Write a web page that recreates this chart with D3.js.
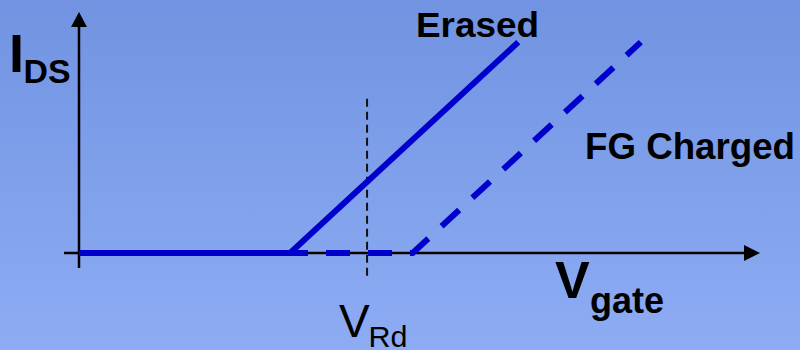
<!DOCTYPE html>
<html>
<head>
<meta charset="utf-8">
<script src="https://cdn.jsdelivr.net/npm/d3@7"></script>
<style>
  body { margin: 0; }
  svg { display: block; font-family: "Liberation Sans", Arial, sans-serif; }
</style>
</head>
<body>
<div id="container"></div>
<script>
// gate voltage / drain current points for each cell state
const erasedV = [0, 3.1, 6.45];
const erasedI = [0, 0, 8.75];
const chargedV = [0, 4.9, 8.25];
const chargedI = [0, 0, 8.75];
const readV = [4.23, 4.23];
const readI = [6.4, -1.0];
const seriesNames = ['Erased', 'FG Charged'];

const w = 800;
const h = 350;

const svg = d3.select('#container')
  .append('svg')
  .attr('width', w)
  .attr('height', h);

const defs = svg.append('defs');
const grad = defs.append('linearGradient')
  .attr('id', 'bg')
  .attr('x1', 0).attr('y1', 0)
  .attr('x2', 0).attr('y2', 1);
grad.append('stop').attr('offset', '0%').attr('stop-color', '#7193e1');
grad.append('stop').attr('offset', '100%').attr('stop-color', '#8dacf4');

svg.append('rect')
  .attr('width', w)
  .attr('height', h)
  .attr('fill', 'url(#bg)');

const xScale = d3.scaleLinear().domain([0, 10]).range([79, 760]);
const yScale = d3.scaleLinear().domain([0, 10]).range([253, 12]);

const line = d3.line()
  .x(d => xScale(d[0]))
  .y(d => yScale(d[1]));

// axes
const x0 = xScale(0), y0 = yScale(0);
svg.append('line')
  .attr('x1', x0).attr('y1', y0 + 15)
  .attr('x2', x0).attr('y2', yScale(10) + 14)
  .attr('stroke', '#000').attr('stroke-width', 2.5);
svg.append('path')
  .attr('d', `M${x0},${yScale(10)} L${x0 - 8},${yScale(10) + 15} L${x0 + 8},${yScale(10) + 15} Z`)
  .attr('fill', '#000');

svg.append('line')
  .attr('x1', x0 - 15).attr('y1', y0)
  .attr('x2', xScale(10) - 14).attr('y2', y0)
  .attr('stroke', '#000').attr('stroke-width', 2.5);
svg.append('path')
  .attr('d', `M${xScale(10)},${y0} L${xScale(10) - 16},${y0 - 8} L${xScale(10) - 16},${y0 + 8} Z`)
  .attr('fill', '#000');

// read voltage marker
svg.append('path')
  .attr('d', line(d3.zip(readV, readI)))
  .attr('stroke', '#111')
  .attr('stroke-width', 2)
  .attr('stroke-dasharray', '8,5')
  .attr('fill', 'none');

// FG charged (dashed)
svg.append('path')
  .attr('d', line(d3.zip(chargedV, chargedI)))
  .attr('stroke', '#0000cc')
  .attr('stroke-width', 6)
  .attr('stroke-dasharray', '24,18')
  .attr('stroke-dashoffset', 5)
  .attr('fill', 'none');

// erased (solid)
svg.append('path')
  .attr('d', line(d3.zip(erasedV, erasedI)))
  .attr('stroke', '#0000cc')
  .attr('stroke-width', 6)
  .attr('fill', 'none');

// labels
const bold = sel => sel.attr('font-weight', 'bold').attr('fill', '#000');

svg.append('text').attr('x', 9).attr('y', 72).attr('font-size', 54).text('I').call(bold);
svg.append('text').attr('x', 23.5).attr('y', 83).attr('font-size', 34)
  .attr('textLength', 47).attr('lengthAdjust', 'spacingAndGlyphs').text('DS').call(bold);

svg.append('text').attr('x', 416).attr('y', 37).attr('font-size', 35)
  .attr('textLength', 123).attr('lengthAdjust', 'spacingAndGlyphs').text(seriesNames[0]).call(bold);
svg.append('text').attr('x', 585).attr('y', 159).attr('font-size', 36)
  .attr('textLength', 210).attr('lengthAdjust', 'spacingAndGlyphs').text(seriesNames[1]).call(bold);

svg.append('text').attr('x', 555).attr('y', 298).attr('font-size', 52).text('V').call(bold);
svg.append('text').attr('x', 590).attr('y', 313).attr('font-size', 36).text('gate').call(bold);

svg.append('text').attr('x', 339).attr('y', 337).attr('font-size', 46).attr('fill', '#000').text('V');
svg.append('text').attr('x', 368.5).attr('y', 347).attr('font-size', 30).attr('fill', '#000')
  .attr('textLength', 39).attr('lengthAdjust', 'spacingAndGlyphs').text('Rd');
</script>
</body>
</html>
